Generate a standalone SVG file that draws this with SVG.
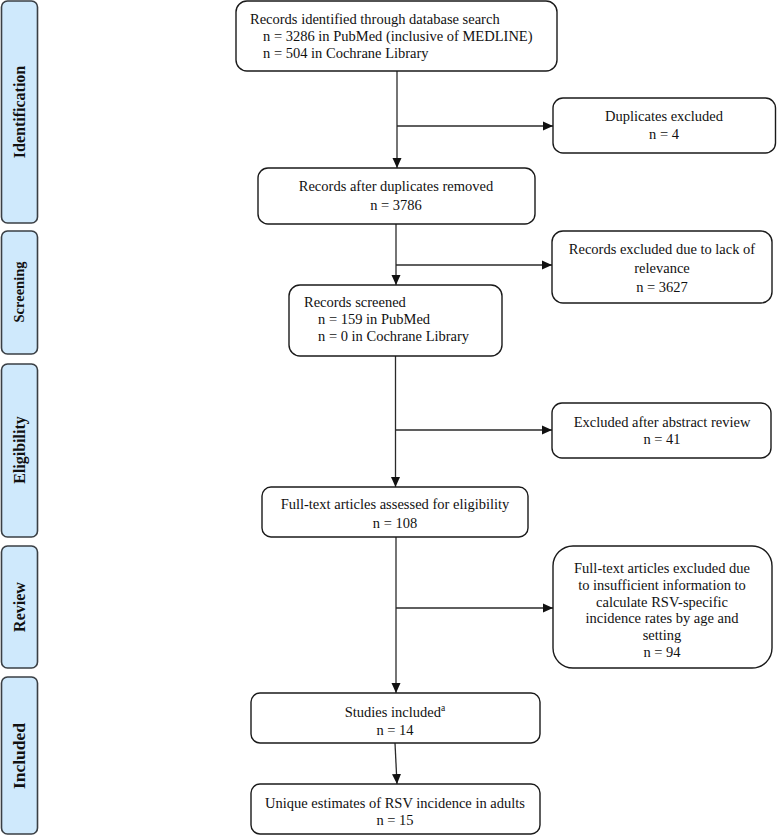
<svg xmlns="http://www.w3.org/2000/svg" width="777" height="836" viewBox="0 0 777 836">
<defs>
<style>
.bar{fill:#cfe9fc;stroke:#3a3f44;stroke-width:1.6}
.box{fill:#fff;stroke:#1a1a1a;stroke-width:1.4}
.t{font-family:"Liberation Serif","Times New Roman",serif;font-size:14.5px;fill:#111}
.c{text-anchor:middle}
.lb{font-family:"Liberation Serif","Times New Roman",serif;font-weight:bold;fill:#111;text-anchor:middle}
.ln{fill:none;stroke:#2a2a2a;stroke-width:1.3}
</style>
<marker id="ah" viewBox="0 0 10 10" refX="10" refY="5" markerWidth="10" markerHeight="10" markerUnits="userSpaceOnUse" orient="auto">
<path d="M0,0.5 L10,5 L0,9.5 Z" fill="#111"/>
</marker>
</defs>
<rect width="777" height="836" fill="#fff"/>

<g id="bar-identification"><rect class="bar" x="1.5" y="1" width="36" height="222" rx="6"/><text class="lb" font-size="16" transform="translate(24.5,112) rotate(-90)">Identification</text></g>
<g id="bar-screening"><rect class="bar" x="1.5" y="231" width="36" height="123" rx="6"/><text class="lb" font-size="14.5" transform="translate(24,292) rotate(-90)">Screening</text></g>
<g id="bar-eligibility"><rect class="bar" x="1.5" y="364" width="36" height="173" rx="6"/><text class="lb" font-size="16" transform="translate(24.5,450) rotate(-90)">Eligibility</text></g>
<g id="bar-review"><rect class="bar" x="1.5" y="546" width="36" height="122" rx="6"/><text class="lb" font-size="16" transform="translate(24.5,607) rotate(-90)">Review</text></g>
<g id="bar-included"><rect class="bar" x="1.5" y="677" width="36" height="157" rx="6"/><text class="lb" font-size="17.5" transform="translate(25,756) rotate(-90)">Included</text></g>

<g id="connectors">
<line class="ln" x1="397" y1="71" x2="397" y2="168" marker-end="url(#ah)"/>
<line class="ln" x1="397" y1="126" x2="553" y2="126" marker-end="url(#ah)"/>
<line class="ln" x1="396" y1="224" x2="396" y2="285" marker-end="url(#ah)"/>
<line class="ln" x1="396" y1="265" x2="552" y2="265" marker-end="url(#ah)"/>
<line class="ln" x1="395.5" y1="356" x2="395.5" y2="487" marker-end="url(#ah)"/>
<line class="ln" x1="395.5" y1="430" x2="552" y2="430" marker-end="url(#ah)"/>
<line class="ln" x1="396" y1="537" x2="396" y2="693" marker-end="url(#ah)"/>
<line class="ln" x1="396" y1="608" x2="553" y2="608" marker-end="url(#ah)"/>
<line class="ln" x1="395" y1="743" x2="397" y2="784" marker-end="url(#ah)"/>
</g>

<g id="n-identified"><rect class="box" x="236" y="1" width="321" height="70" rx="11"/>
<text class="t" x="250" y="24">Records identified through database search</text>
<text class="t" x="263" y="41">n = 3286 in PubMed (inclusive of MEDLINE)</text>
<text class="t" x="263" y="58">n = 504 in Cochrane Library</text></g>

<g id="n-duplicates"><rect class="box" x="553" y="98" width="222.5" height="55" rx="10"/>
<text class="t c" x="664" y="121">Duplicates excluded</text>
<text class="t c" x="664" y="139">n = 4</text></g>

<g id="n-after-dup"><rect class="box" x="258" y="168" width="277" height="56" rx="10"/>
<text class="t c" x="396" y="191">Records after duplicates removed</text>
<text class="t c" x="396" y="210">n = 3786</text></g>

<g id="n-excl-relevance"><rect class="box" x="552" y="231" width="220" height="72" rx="11"/>
<text class="t c" x="662" y="254">Records excluded due to lack of</text>
<text class="t c" x="662" y="273">relevance</text>
<text class="t c" x="662" y="292">n = 3627</text></g>

<g id="n-screened"><rect class="box" x="289" y="285" width="213" height="71" rx="11"/>
<text class="t" x="304" y="307">Records screened</text>
<text class="t" x="318" y="324">n = 159 in PubMed</text>
<text class="t" x="318" y="341">n = 0 in Cochrane Library</text></g>

<g id="n-excl-abstract"><rect class="box" x="552" y="403" width="219" height="55" rx="10"/>
<text class="t c" x="662" y="427">Excluded after abstract review</text>
<text class="t c" x="662" y="444">n = 41</text></g>

<g id="n-fulltext"><rect class="box" x="262" y="487" width="266" height="50" rx="9"/>
<text class="t c" x="395" y="509">Full-text articles assessed for eligibility</text>
<text class="t c" x="395" y="528">n = 108</text></g>

<g id="n-excl-fulltext"><rect class="box" x="553" y="546" width="219" height="122" rx="20"/>
<text class="t c" x="662" y="573">Full-text articles excluded due</text>
<text class="t c" x="662" y="590">to insufficient information to</text>
<text class="t c" x="662" y="607">calculate RSV-specific</text>
<text class="t c" x="662" y="623">incidence rates by age and</text>
<text class="t c" x="662" y="640">setting</text>
<text class="t c" x="662" y="657">n = 94</text></g>

<g id="n-studies"><rect class="box" x="251" y="693" width="289" height="50" rx="9"/>
<text class="t c" x="395" y="717">Studies included<tspan font-size="9.5" dy="-6">a</tspan></text>
<text class="t c" x="395" y="735">n = 14</text></g>

<g id="n-unique"><rect class="box" x="251" y="784" width="289" height="50" rx="9"/>
<text class="t c" x="395" y="808">Unique estimates of RSV incidence in adults</text>
<text class="t c" x="395" y="825">n = 15</text></g>
</svg>
